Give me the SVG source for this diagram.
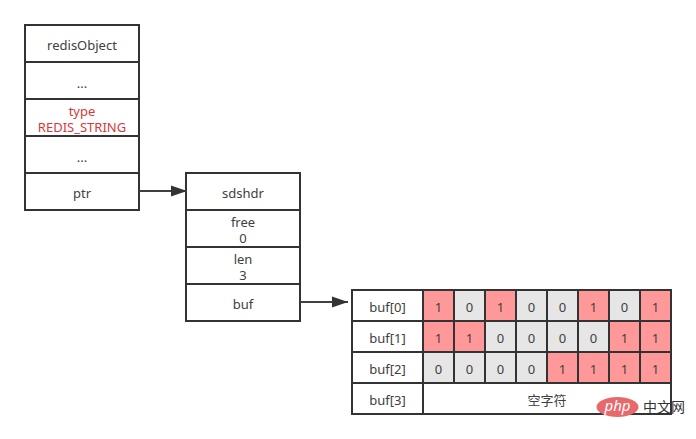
<svg xmlns="http://www.w3.org/2000/svg" width="696" height="439" viewBox="0 0 696 439">
<style>
text{font-family:"Noto Sans","Noto Sans CJK SC",sans-serif;font-size:13px;fill:#404040;text-anchor:middle}
.b{fill:#fff;stroke:#333;stroke-width:2}
.r{fill:#ff9999;stroke:#333;stroke-width:2}
.g{fill:#e6e6e6;stroke:#333;stroke-width:2}
.red{fill:#d9383a}
.c{stroke:#404040;stroke-width:2;fill:none;marker-end:url(#a)}
</style>
<defs><marker id="a" markerUnits="userSpaceOnUse" markerWidth="18" markerHeight="14" refX="16" refY="7" orient="auto"><path d="M0 1.500L16 7L0 12.500z" fill="#333"/></marker></defs>
<rect width="696" height="439" fill="#fff"/>
<g id="redisObject">
<rect class="b" x="25" y="25" width="114" height="37"/><text x="82" y="50">redisObject</text>
<rect class="b" x="25" y="62" width="114" height="37"/><text x="82" y="88">...</text>
<rect class="b" x="25" y="99" width="114" height="37"/><text class="red" x="82" y="116">type</text><text class="red" x="82" y="132">REDIS_STRING</text>
<rect class="b" x="25" y="136" width="114" height="37"/><text x="82" y="162">...</text>
<rect class="b" x="25" y="173" width="114" height="37"/><text x="82" y="198">ptr</text>
</g>
<g id="sdshdr">
<rect class="b" x="186" y="173" width="114" height="37"/><text x="243" y="198">sdshdr</text>
<rect class="b" x="186" y="210" width="114" height="37"/><text x="243" y="227">free</text><text x="243" y="243">0</text>
<rect class="b" x="186" y="247" width="114" height="37"/><text x="243" y="264">len</text><text x="243" y="280">3</text>
<rect class="b" x="186" y="284" width="114" height="37"/><text x="243" y="309">buf</text>
</g>
<g id="buf-table">
<rect class="b" x="352" y="290" width="71" height="31"/><text x="387.500" y="312">buf[0]</text>
<rect class="b" x="352" y="321" width="71" height="31"/><text x="387.500" y="343">buf[1]</text>
<rect class="b" x="352" y="352" width="71" height="31"/><text x="387.500" y="374">buf[2]</text>
<rect class="b" x="352" y="383" width="71" height="31"/><text x="387.500" y="405">buf[3]</text>
<rect class="r" x="423" y="290" width="31" height="31"/><text x="438.500" y="312">1</text>
<rect class="g" x="454" y="290" width="31" height="31"/><text x="469.500" y="312">0</text>
<rect class="r" x="485" y="290" width="31" height="31"/><text x="500.500" y="312">1</text>
<rect class="g" x="516" y="290" width="31" height="31"/><text x="531.500" y="312">0</text>
<rect class="g" x="547" y="290" width="31" height="31"/><text x="562.500" y="312">0</text>
<rect class="r" x="578" y="290" width="31" height="31"/><text x="593.500" y="312">1</text>
<rect class="g" x="609" y="290" width="31" height="31"/><text x="624.500" y="312">0</text>
<rect class="r" x="640" y="290" width="31" height="31"/><text x="655.500" y="312">1</text>
<rect class="r" x="423" y="321" width="31" height="31"/><text x="438.500" y="343">1</text>
<rect class="r" x="454" y="321" width="31" height="31"/><text x="469.500" y="343">1</text>
<rect class="g" x="485" y="321" width="31" height="31"/><text x="500.500" y="343">0</text>
<rect class="g" x="516" y="321" width="31" height="31"/><text x="531.500" y="343">0</text>
<rect class="g" x="547" y="321" width="31" height="31"/><text x="562.500" y="343">0</text>
<rect class="g" x="578" y="321" width="31" height="31"/><text x="593.500" y="343">0</text>
<rect class="r" x="609" y="321" width="31" height="31"/><text x="624.500" y="343">1</text>
<rect class="r" x="640" y="321" width="31" height="31"/><text x="655.500" y="343">1</text>
<rect class="g" x="423" y="352" width="31" height="31"/><text x="438.500" y="374">0</text>
<rect class="g" x="454" y="352" width="31" height="31"/><text x="469.500" y="374">0</text>
<rect class="g" x="485" y="352" width="31" height="31"/><text x="500.500" y="374">0</text>
<rect class="g" x="516" y="352" width="31" height="31"/><text x="531.500" y="374">0</text>
<rect class="r" x="547" y="352" width="31" height="31"/><text x="562.500" y="374">1</text>
<rect class="r" x="578" y="352" width="31" height="31"/><text x="593.500" y="374">1</text>
<rect class="r" x="609" y="352" width="31" height="31"/><text x="624.500" y="374">1</text>
<rect class="r" x="640" y="352" width="31" height="31"/><text x="655.500" y="374">1</text>
<rect class="b" x="423" y="383" width="248" height="31"/><text x="547" y="405">空字符</text>
</g>
<g id="connectors">
<path class="c" d="M139 191H187"/>
<path class="c" d="M300 302H348"/>
</g>
<g id="watermark">
<ellipse cx="617.500" cy="407" rx="21" ry="10" fill="#e8696b"/>
<text x="617.500" y="411" font-style="italic" style="font-size:15px;fill:#fff">php</text>
<text x="664" y="412" style="font-size:14px;fill:#333">中文网</text>
</g>
</svg>
